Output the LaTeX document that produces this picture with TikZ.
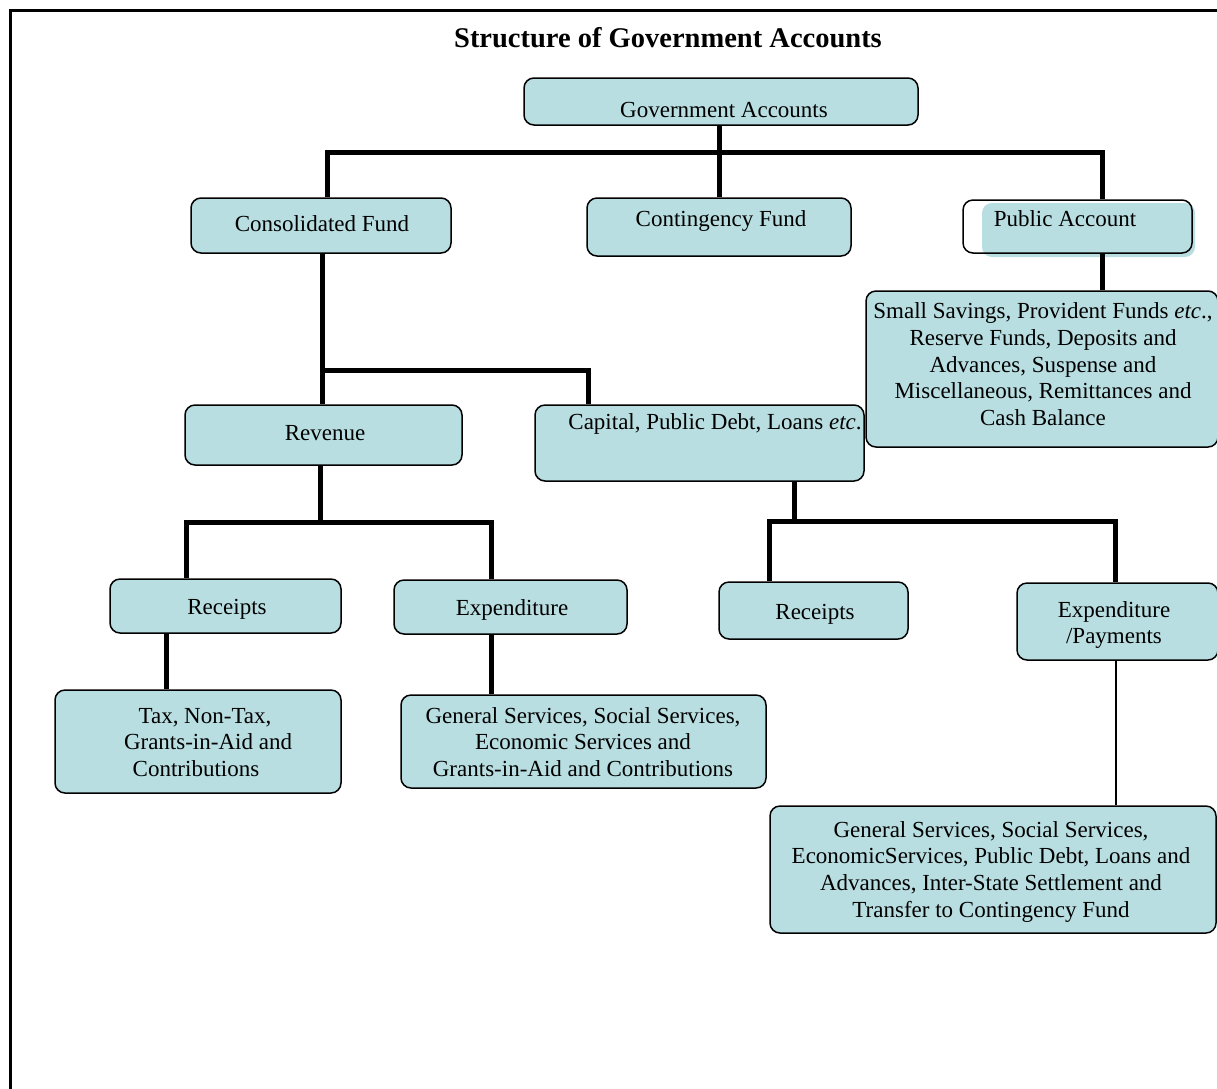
\documentclass[tikz,border=0pt]{standalone}
\usepackage{fontspec}
\setmainfont{Liberation Serif}
\definecolor{boxfill}{RGB}{184,222,225}
\begin{document}
\begin{tikzpicture}[x=1pt,y=-1pt,
  box/.style={draw=black, line width=1.5pt, rounded corners=10pt, fill=boxfill, inner sep=0pt},
  lbl/.style={font=\fontsize{23}{26.8}\selectfont, inner sep=0pt, align=center, anchor=base},
  conn/.style={line width=5pt, line join=miter},
  thinconn/.style={line width=2pt}]
\useasboundingbox (0,0) rectangle (1217,1088);
\begin{scope}
\clip (0,0) rectangle (1217,1088);
\draw[line width=3pt] (10,1100) -- (10,10) -- (1230,10);
\end{scope}

\node[font=\bfseries\fontsize{28.5}{31}\selectfont, inner sep=0pt, anchor=base] (title) at (668,47) {Structure of Government Accounts};

% boxes
\node[box, minimum width=394pt, minimum height=47pt] (ga) at (721,101.5) {};
\node[box, minimum width=260pt, minimum height=55pt] (cf) at (321,225.5) {};
\node[box, minimum width=264pt, minimum height=58pt] (ctf) at (719,227) {};
\node[fill=boxfill, rounded corners=10pt, inner sep=0pt, minimum width=213pt, minimum height=54pt] (pafill) at (1088.5,230) {};
\node[draw=black, line width=1.5pt, rounded corners=10pt, inner sep=0pt, minimum width=229pt, minimum height=53pt] (pa) at (1077.5,226.5) {};
\node[box, minimum width=352pt, minimum height=156pt] (ss) at (1042,369) {};
\node[box, minimum width=277pt, minimum height=60pt] (rev) at (323.5,435) {};
\node[box, minimum width=329pt, minimum height=76pt] (cap) at (699.5,443) {};
\node[box, minimum width=231pt, minimum height=54pt] (rl) at (225.5,606) {};
\node[box, minimum width=233pt, minimum height=54pt] (el) at (510.5,607) {};
\node[box, minimum width=189pt, minimum height=57pt] (rr) at (813.5,610.5) {};
\node[box, minimum width=201pt, minimum height=77pt] (ep) at (1117.5,621.5) {};
\node[box, minimum width=286pt, minimum height=103pt] (tax) at (198,741.5) {};
\node[box, minimum width=365pt, minimum height=93pt] (gl) at (583.5,741.5) {};
\node[box, minimum width=446pt, minimum height=127pt] (gr) at (993,869.5) {};

% labels (multi-line labels are anchored at the baseline of their last line)
\node[lbl] (tga) at (724,117) {Government Accounts};
\node[lbl] (tcf) at (322,231) {Consolidated Fund};
\node[lbl] (tctf) at (721,226) {Contingency Fund};
\node[lbl] (tpa) at (1065,226) {Public Account};
\node[lbl] (tss) at (1043,425.7) {Small Savings, Provident Funds \textit{etc}.,\\Reserve Funds, Deposits and\\Advances, Suspense and\\Miscellaneous, Remittances and\\Cash Balance};
\node[lbl] (trev) at (325,440) {Revenue};
\node[lbl] (tcap) at (715,429) {Capital, Public Debt, Loans \textit{etc}.};
\node[lbl] (trl) at (227,614) {Receipts};
\node[lbl] (tel) at (512,615) {Expenditure};
\node[lbl] (trr) at (815,619) {Receipts};
\node[lbl] (tep) at (1114,643.8) {Expenditure\\/Payments};
\node[lbl] (ttax) at (200,776.6) {\hspace*{10pt}Tax, Non-Tax,\\\hspace*{16pt}Grants-in-Aid and\\Contributions\hspace*{8pt}};
\node[lbl] (tgl) at (583,776.6) {General Services, Social Services,\\Economic Services and\\Grants-in-Aid and Contributions};
\node[lbl] (tgr) at (991,917.4) {General Services, Social Services,\\EconomicServices, Public Debt, Loans and\\Advances, Inter-State Settlement and\\Transfer to Contingency Fund};

% connectors
\coordinate (a1) at (719,152);
\coordinate (aL) at (327,152);
\coordinate (aR) at (1102,152);
\draw[conn] (a1 |- ga.south) -- (a1) -- (a1 |- ctf.north);
\draw[conn] (aL |- cf.north) -- (aL) -- (aR) -- (aR |- pa.north);
\draw[conn] (aR |- pa.south) -- (aR |- ss.north);

\coordinate (b1) at (322,370);
\coordinate (bR) at (588,370);
\draw[conn] (b1 |- cf.south) -- (b1 |- rev.north);
\draw[conn] (b1) -- (bR) -- (bR |- cap.north);

\coordinate (c1) at (320,522);
\coordinate (cL) at (186,522);
\coordinate (cR) at (491,522);
\draw[conn] (c1 |- rev.south) -- (c1);
\draw[conn] (cL |- rl.north) -- (cL) -- (cR) -- (cR |- el.north);

\coordinate (d1) at (794,521);
\coordinate (dL) at (769,521);
\coordinate (dR) at (1115,521);
\draw[conn] (d1 |- cap.south) -- (d1);
\draw[conn] (dL |- rr.north) -- (dL) -- (dR) -- (dR |- ep.north);

\coordinate (e1) at (166,660);
\draw[conn] (e1 |- rl.south) -- (e1 |- tax.north);
\draw[conn] (cR |- el.south) -- (cR |- gl.north);
\coordinate (f1) at (1116,700);
\draw[thinconn] (f1 |- ep.south) -- (f1 |- gr.north);
\end{tikzpicture}
\end{document}
